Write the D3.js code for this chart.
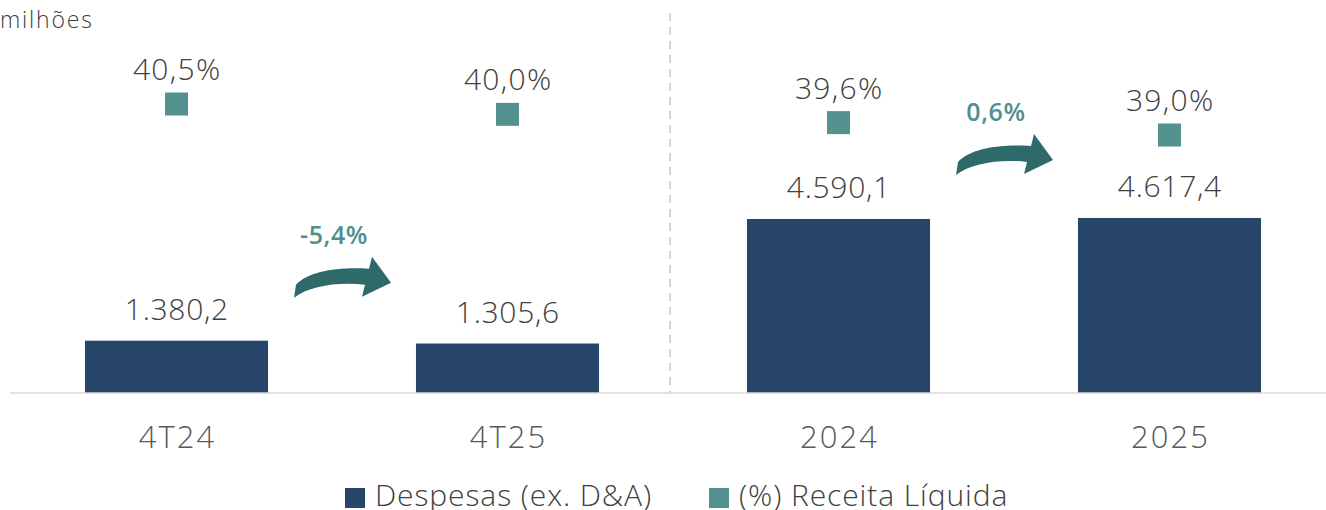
<!DOCTYPE html>
<html>
<head>
<meta charset="utf-8">
<script src="https://cdn.jsdelivr.net/npm/d3@7"></script>
<style>
  body { margin: 0; background: #fff; }
  svg { display: block; font-family: "Open Sans", Lato, sans-serif; }
</style>
</head>
<body>
<div id="chart"></div>
<script>
const categories = ["4T24", "4T25", "2024", "2025"];
const despesas = [1380.2, 1305.6, 4590.1, 4617.4];
const pctReceita = [40.5, 40.0, 39.6, 39.0];
const variacao = ["-5,4%", "0,6%"];
const legendLabels = ["Despesas (ex. D&A)", "(%) Receita Líquida"];

(function despesas_chart() {
  const width = 1326, height = 510;
  const base = 393;

  const svg = d3.select("#chart")
    .append("svg")
    .attr("width", width)
    .attr("height", height);

  const ptBR = d3.formatLocale({ decimal: ",", thousands: ".", grouping: [3], currency: ["R$", ""] });
  const fmtVal = ptBR.format(",.1f");
  const fmtPct = v => ptBR.format(".1f")(v) + "%";

  const x = d3.scaleBand()
    .domain(categories)
    .range([11, 1335])
    .paddingInner(0.447)
    .paddingOuter(0.2235);
  const cx = c => x(c) + x.bandwidth() / 2;

  const y = d3.scaleLinear().domain([0, 10367]).range([base, 0]);
  const yp = d3.scaleLinear().domain([35, 45]).range([217.7, 11]);

  // unit label
  svg.append("text")
    .attr("x", 0).attr("y", 28)
    .attr("font-size", 23)
    .attr("font-weight", 300)
    .attr("letter-spacing", 1.8)
    .attr("fill", "#404040")
    .text("milhões");

  // divider between quarter and year
  const divX = (x("4T25") + x.bandwidth() + x("2024")) / 2 - 3;
  svg.append("line")
    .attr("x1", divX).attr("x2", divX)
    .attr("y1", 13).attr("y2", base)
    .attr("stroke", "#c8c8c8")
    .attr("stroke-width", 1.5)
    .attr("stroke-dasharray", "8,6");

  // bars
  svg.append("g")
    .selectAll("rect")
    .data(despesas)
    .join("rect")
    .attr("x", (d, i) => x(categories[i]))
    .attr("y", d => y(d))
    .attr("width", x.bandwidth())
    .attr("height", d => base - y(d))
    .attr("fill", "#284669");

  // axis line
  svg.append("line")
    .attr("x1", 10).attr("x2", width)
    .attr("y1", base).attr("y2", base)
    .attr("stroke", "#d9d9d9")
    .attr("stroke-width", 1.5);

  // bar value labels
  svg.append("g")
    .selectAll("text")
    .data(despesas)
    .join("text")
    .attr("x", (d, i) => cx(categories[i]) + 0.4)
    .attr("y", d => y(d) - 21)
    .attr("text-anchor", "middle")
    .attr("font-size", 30)
    .attr("font-weight", 300)
    .attr("letter-spacing", 0.7)
    .attr("fill", "#404040")
    .text(d => fmtVal(d));

  // percent squares
  const sq = 23;
  svg.append("g")
    .selectAll("rect")
    .data(pctReceita)
    .join("rect")
    .attr("x", (d, i) => cx(categories[i]) - sq / 2)
    .attr("y", d => yp(d) - sq / 2)
    .attr("width", sq)
    .attr("height", sq)
    .attr("fill", "#53918f");

  svg.append("g")
    .selectAll("text")
    .data(pctReceita)
    .join("text")
    .attr("x", (d, i) => cx(categories[i]) + 0.7)
    .attr("y", d => yp(d) - 24)
    .attr("text-anchor", "middle")
    .attr("font-size", 30)
    .attr("font-weight", 300)
    .attr("letter-spacing", 1.3)
    .attr("fill", "#404040")
    .text(d => fmtPct(d));

  // category labels
  svg.append("g")
    .selectAll("text")
    .data(categories)
    .join("text")
    .attr("x", d => cx(d) + 1)
    .attr("y", 448)
    .attr("text-anchor", "middle")
    .attr("font-size", 31)
    .attr("font-weight", 300)
    .attr("letter-spacing", 2)
    .attr("fill", "#595959")
    .text(d => d);

  // curved arrows with variation
  const arrowPath = "M0,0 L2,-13 C15,-27 45,-31 75,-29 L78,-41 L97,-15 L68,-1 L71,-13 C45,-16 15,-12 0,0 Z";
  [[0, 1], [2, 3]].forEach(([a, b], i) => {
    const gapMid = (x(categories[a]) + x.bandwidth() + x(categories[b])) / 2;
    const top = Math.min(y(despesas[a]), y(despesas[b]));
    const ox = gapMid - 48, oy = top - 43;
    svg.append("path")
      .attr("d", arrowPath)
      .attr("transform", `translate(${ox},${oy})`)
      .attr("fill", "#2e6a6a");
    svg.append("text")
      .attr("x", ox + 40)
      .attr("y", oy - 54)
      .attr("text-anchor", "middle")
      .attr("font-size", 25)
      .attr("font-weight", 600)
      .attr("letter-spacing", 0.6)
      .attr("fill", "#4f8f8e")
      .text(variacao[i]);
  });

  // legend
  const legendColors = ["#284669", "#53918f"];
  const legendX = [345, 709];
  const lg = svg.append("g");
  legendLabels.forEach((label, i) => {
    lg.append("rect")
      .attr("x", legendX[i]).attr("y", 488)
      .attr("width", 20).attr("height", 20)
      .attr("fill", legendColors[i]);
    lg.append("text")
      .attr("x", legendX[i] + 30).attr("y", 506)
      .attr("font-size", 30)
      .attr("font-weight", 300)
      .attr("letter-spacing", 0.9)
      .attr("fill", "#404040")
      .text(label);
  });
})();
</script>
</body>
</html>
